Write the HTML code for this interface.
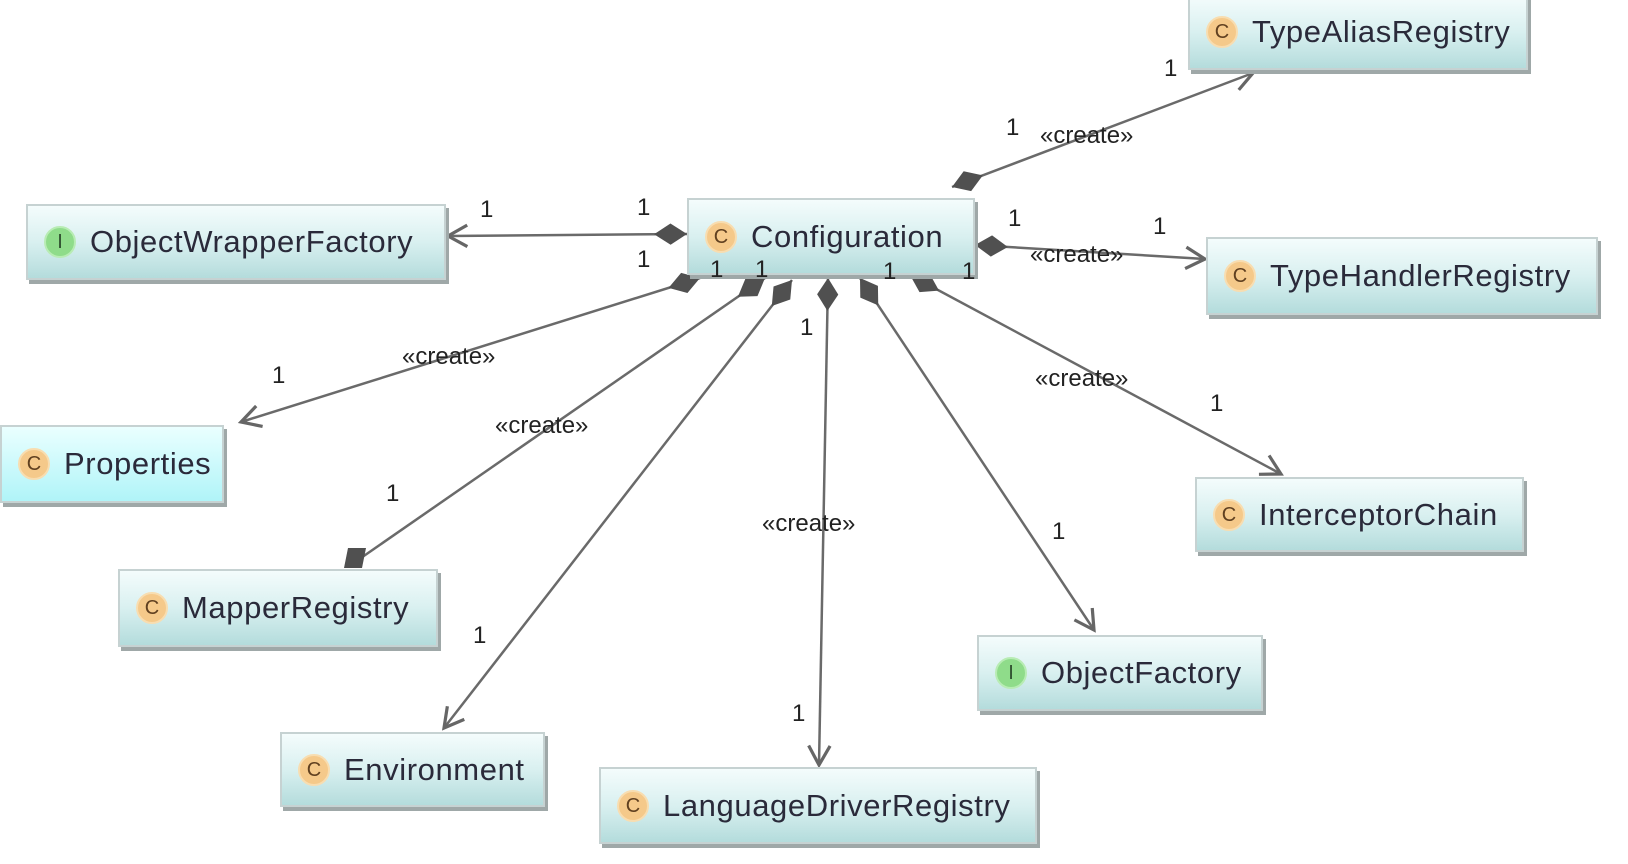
<!DOCTYPE html>
<html><head><meta charset="utf-8"><style>
html,body{margin:0;padding:0;background:#fff;}
body{width:1628px;height:864px;position:relative;overflow:hidden;font-family:"Liberation Sans",sans-serif;}
.b{position:absolute;box-sizing:border-box;border:2px solid #c6d2d2;background:linear-gradient(#f4fcfc,#d9f0f0 50%,#b4dcdc);box-shadow:3px 4px 0 #9fa8a8;display:flex;align-items:center;font-size:31px;letter-spacing:0.6px;color:#2a2a3a;white-space:nowrap}
.b.p{background:linear-gradient(#eaffff,#b0f4f8);}
.i{display:inline-block;width:32px;height:32px;border-radius:50%;background:#f5c98a;border:2px solid #f8ddb0;box-sizing:border-box;text-align:center;line-height:28px;font-size:20px;letter-spacing:0;color:#604020;margin:0 14px 0 16px;flex:none}
.i.g{background:#8fdc8a;border-color:#b8ecb4;color:#305030}
.t{position:absolute;font-size:24px;color:#222;white-space:nowrap}
</style></head><body>
<svg width="1628" height="864" style="position:absolute;left:0;top:0">
<defs>
<marker id="d" markerUnits="userSpaceOnUse" markerWidth="40" markerHeight="30" viewBox="-2 -12 34 24" refX="0" refY="0" orient="auto"><path d="M0,0 L14,-9 L28,0 L14,9 z" fill="#505050"/></marker>
<marker id="a" markerUnits="userSpaceOnUse" markerWidth="30" markerHeight="30" viewBox="-22 -14 26 28" refX="0" refY="0" orient="auto"><path d="M-18,-10 L0,0 L-18,10" fill="none" stroke="#666" stroke-width="3"/></marker>
</defs>
<g stroke="#6a6a6a" stroke-width="2.5" fill="none">
<line x1="952" y1="187" x2="1253" y2="73" marker-start="url(#d)" marker-end="url(#a)"/>
<line x1="687" y1="234" x2="448" y2="236" marker-start="url(#d)" marker-end="url(#a)"/>
<line x1="975" y1="245" x2="1205" y2="259" marker-start="url(#d)" marker-end="url(#a)"/>
<line x1="700" y1="278" x2="241" y2="422" marker-start="url(#d)" marker-end="url(#a)"/>
<line x1="765" y1="278" x2="358" y2="560" marker-start="url(#d)"/>
<line x1="792" y1="280" x2="444" y2="728" marker-start="url(#d)" marker-end="url(#a)"/>
<line x1="828" y1="278" x2="819" y2="765" marker-start="url(#d)" marker-end="url(#a)"/>
<line x1="860" y1="278" x2="1094" y2="630" marker-start="url(#d)" marker-end="url(#a)"/>
<line x1="910" y1="275" x2="1281" y2="474" marker-start="url(#d)" marker-end="url(#a)"/>
</g>
<path d="M348,548 L366,548 L362,568 L344,568 z" fill="#505050"/>
</svg>

<div class="b" style="left:26px;top:204px;width:420px;height:76px"><span class="i g">I</span>ObjectWrapperFactory</div>
<div class="b" style="left:687px;top:198px;width:288px;height:77px"><span class="i">C</span>Configuration</div>
<div class="b" style="left:1188px;top:-6px;width:340px;height:76px"><span class="i">C</span>TypeAliasRegistry</div>
<div class="b" style="left:1206px;top:237px;width:392px;height:78px"><span class="i">C</span>TypeHandlerRegistry</div>
<div class="b p" style="left:0px;top:425px;width:224px;height:78px"><span class="i">C</span>Properties</div>
<div class="b" style="left:1195px;top:477px;width:329px;height:75px"><span class="i">C</span>InterceptorChain</div>
<div class="b" style="left:118px;top:569px;width:320px;height:78px"><span class="i">C</span>MapperRegistry</div>
<div class="b" style="left:977px;top:635px;width:286px;height:76px"><span class="i g">I</span>ObjectFactory</div>
<div class="b" style="left:280px;top:732px;width:265px;height:75px"><span class="i">C</span>Environment</div>
<div class="b" style="left:599px;top:767px;width:438px;height:77px"><span class="i">C</span>LanguageDriverRegistry</div>

<div class="t" style="left:1006px;top:114px">1</div>
<div class="t" style="left:1040px;top:122px">«create»</div>
<div class="t" style="left:1164px;top:55px">1</div>
<div class="t" style="left:480px;top:196px">1</div>
<div class="t" style="left:637px;top:194px">1</div>
<div class="t" style="left:1008px;top:205px">1</div>
<div class="t" style="left:1030px;top:241px">«create»</div>
<div class="t" style="left:1153px;top:213px">1</div>
<div class="t" style="left:402px;top:343px">«create»</div>
<div class="t" style="left:272px;top:362px">1</div>
<div class="t" style="left:637px;top:246px">1</div>
<div class="t" style="left:495px;top:412px">«create»</div>
<div class="t" style="left:386px;top:480px">1</div>
<div class="t" style="left:710px;top:256px">1</div>
<div class="t" style="left:473px;top:622px">1</div>
<div class="t" style="left:755px;top:256px">1</div>
<div class="t" style="left:762px;top:510px">«create»</div>
<div class="t" style="left:800px;top:314px">1</div>
<div class="t" style="left:792px;top:700px">1</div>
<div class="t" style="left:1052px;top:518px">1</div>
<div class="t" style="left:883px;top:258px">1</div>
<div class="t" style="left:1035px;top:365px">«create»</div>
<div class="t" style="left:1210px;top:390px">1</div>
<div class="t" style="left:962px;top:258px">1</div>
</body></html>
